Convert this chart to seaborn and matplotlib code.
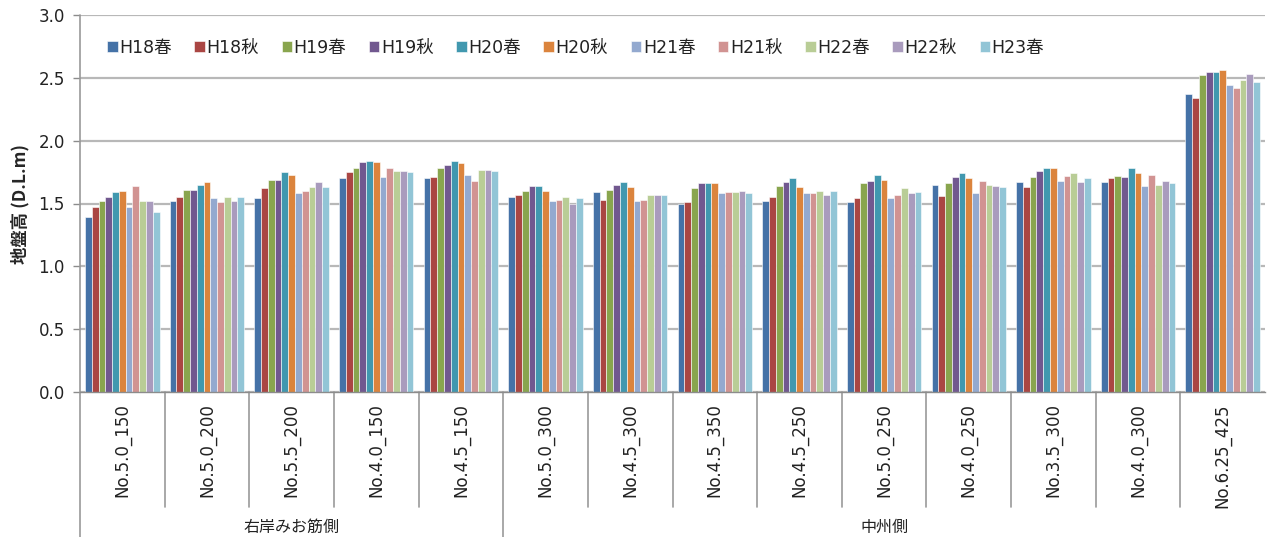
import matplotlib
matplotlib.use("Agg")
import matplotlib.pyplot as plt
import matplotlib.transforms as mtransforms
import seaborn as sns
import pandas as pd

# Survey points (left: 右岸みお筋側, right: 中州側)
points = ["No.5.0_150", "No.5.0_200", "No.5.5_200", "No.4.0_150", "No.4.5_150",
          "No.5.0_300", "No.4.5_300", "No.4.5_350", "No.4.5_250", "No.5.0_250",
          "No.4.0_250", "No.3.5_300", "No.4.0_300", "No.6.25_425"]
sides = ["右岸みお筋側", "中州側"]
side_counts = [5, 9]

seasons = ["H18春", "H18秋", "H19春", "H19秋", "H20春", "H20秋",
           "H21春", "H21秋", "H22春", "H22秋", "H23春"]
colors = ["#4572A7", "#AA4643", "#89A54E", "#71588F", "#4198AF", "#DB843D",
          "#93A9CF", "#D19392", "#B9CD96", "#A99BBD", "#92C5D6"]

# Ground elevation (D.L. m) per point, one list per survey season
h18_spring = [1.39, 1.52, 1.54, 1.70, 1.70, 1.55, 1.59, 1.50, 1.52, 1.51, 1.65, 1.67, 1.67, 2.37]
h18_autumn = [1.47, 1.55, 1.62, 1.75, 1.71, 1.57, 1.53, 1.51, 1.55, 1.54, 1.56, 1.63, 1.70, 2.34]
h19_spring = [1.52, 1.61, 1.69, 1.78, 1.78, 1.60, 1.61, 1.62, 1.64, 1.66, 1.66, 1.71, 1.72, 2.52]
h19_autumn = [1.55, 1.61, 1.69, 1.83, 1.81, 1.64, 1.65, 1.66, 1.67, 1.68, 1.71, 1.76, 1.71, 2.55]
h20_spring = [1.59, 1.65, 1.75, 1.84, 1.84, 1.64, 1.67, 1.66, 1.70, 1.73, 1.74, 1.78, 1.78, 2.55]
h20_autumn = [1.60, 1.67, 1.73, 1.83, 1.82, 1.60, 1.63, 1.66, 1.63, 1.69, 1.70, 1.78, 1.74, 2.56]
h21_spring = [1.47, 1.54, 1.58, 1.71, 1.73, 1.52, 1.52, 1.58, 1.58, 1.54, 1.58, 1.68, 1.64, 2.44]
h21_autumn = [1.64, 1.51, 1.60, 1.78, 1.68, 1.53, 1.53, 1.59, 1.58, 1.57, 1.68, 1.72, 1.73, 2.42]
h22_spring = [1.52, 1.55, 1.63, 1.76, 1.77, 1.55, 1.57, 1.59, 1.60, 1.62, 1.65, 1.74, 1.65, 2.48]
h22_autumn = [1.52, 1.52, 1.67, 1.76, 1.77, 1.50, 1.57, 1.60, 1.57, 1.58, 1.64, 1.67, 1.68, 2.53]
h23_spring = [1.43, 1.55, 1.63, 1.75, 1.76, 1.54, 1.57, 1.58, 1.60, 1.59, 1.63, 1.70, 1.66, 2.47]

series = [h18_spring, h18_autumn, h19_spring, h19_autumn, h20_spring, h20_autumn,
          h21_spring, h21_autumn, h22_spring, h22_autumn, h23_spring]

rows = []
for season, vals in zip(seasons, series):
    for p, v in zip(points, vals):
        rows.append({"point": p, "season": season, "elev": v})
df = pd.DataFrame(rows)

sns.set_theme(style="white")
plt.rcParams["font.family"] = ["DejaVu Sans", "Noto Sans CJK JP"]
TEXT = "#222222"

W, H = 1267, 537
fig = plt.figure(figsize=(W / 100, H / 100), dpi=100)
ax = fig.add_axes([80 / W, (H - 392) / H, (1265 - 80) / W, (392 - 15) / H])

sns.barplot(data=df, x="point", y="elev", hue="season", order=points,
            hue_order=seasons, palette=colors, saturation=1, errorbar=None,
            width=0.88, edgecolor="white", linewidth=0.4, ax=ax)

ax.set_ylim(0, 3.0)
ax.set_yticks([0, 0.5, 1.0, 1.5, 2.0, 2.5, 3.0])
ax.set_yticklabels([f"{v:.1f}" for v in ax.get_yticks()], fontsize=12, color=TEXT)
ax.set_xlim(-0.5, len(points) - 0.5)
ax.yaxis.grid(True, color="#b8b8b8", linewidth=1.6)
ax.set_axisbelow(True)

for s in ["top", "right"]:
    ax.spines[s].set_visible(False)
ax.spines["bottom"].set_color("#8c8c8c")
ax.spines["bottom"].set_linewidth(1.0)
ax.spines["left"].set_visible(False)

ax.tick_params(axis="y", which="major", length=5, color="#8c8c8c", width=1, pad=6, left=True)
ax.tick_params(axis="x", length=0, pad=8)

ax.set_xlabel("")
ax.set_ylabel("地盤高 (D.L.m)", fontsize=12.5, fontweight="bold",
              family=["Noto Sans CJK JP", "DejaVu Sans"])
ax.yaxis.set_label_coords(-0.043, 0.5)

# Category labels drawn vertically, hanging from the axis
ax.set_xticks(range(len(points)))
ax.set_xticklabels(points, rotation=90, va="top", ha="center", fontsize=12, color=TEXT)

trans = mtransforms.blended_transform_factory(ax.transData, ax.transAxes)
ax_h_px = 392 - 15
def ypix(px_below):
    return -px_below / ax_h_px

# left axis line running to the figure bottom
ax.plot([-0.5, -0.5], [1.0, ypix(145)], transform=trans, color="#9a9a9a",
        linewidth=1.2, clip_on=False)

# separators between points and between sides
bounds = []
acc = 0
for c in side_counts:
    acc += c
    bounds.append(acc)
for i in range(1, len(points)):
    x = i - 0.5
    bottom = ypix(145) if i in bounds else ypix(115)
    ax.plot([x, x], [0, bottom], transform=trans, color="#9a9a9a",
            linewidth=1.2, clip_on=False)

# side labels
start = 0
for name, c in zip(sides, side_counts):
    center = start + c / 2 - 0.5
    ax.text(center, ypix(135), name, transform=trans, ha="center", va="center",
            fontsize=11.5, color=TEXT, family=["Noto Sans CJK JP", "DejaVu Sans"])
    start += c

leg = ax.legend(loc="upper left", bbox_to_anchor=(0.017, 0.955), ncol=11, frameon=False,
                fontsize=12.5, handlelength=0.6, handleheight=0.6, handletextpad=0.1,
                columnspacing=1.3, borderaxespad=0)
for t in leg.get_texts():
    t.set_color(TEXT)

fig.savefig("out.png", dpi=100)
